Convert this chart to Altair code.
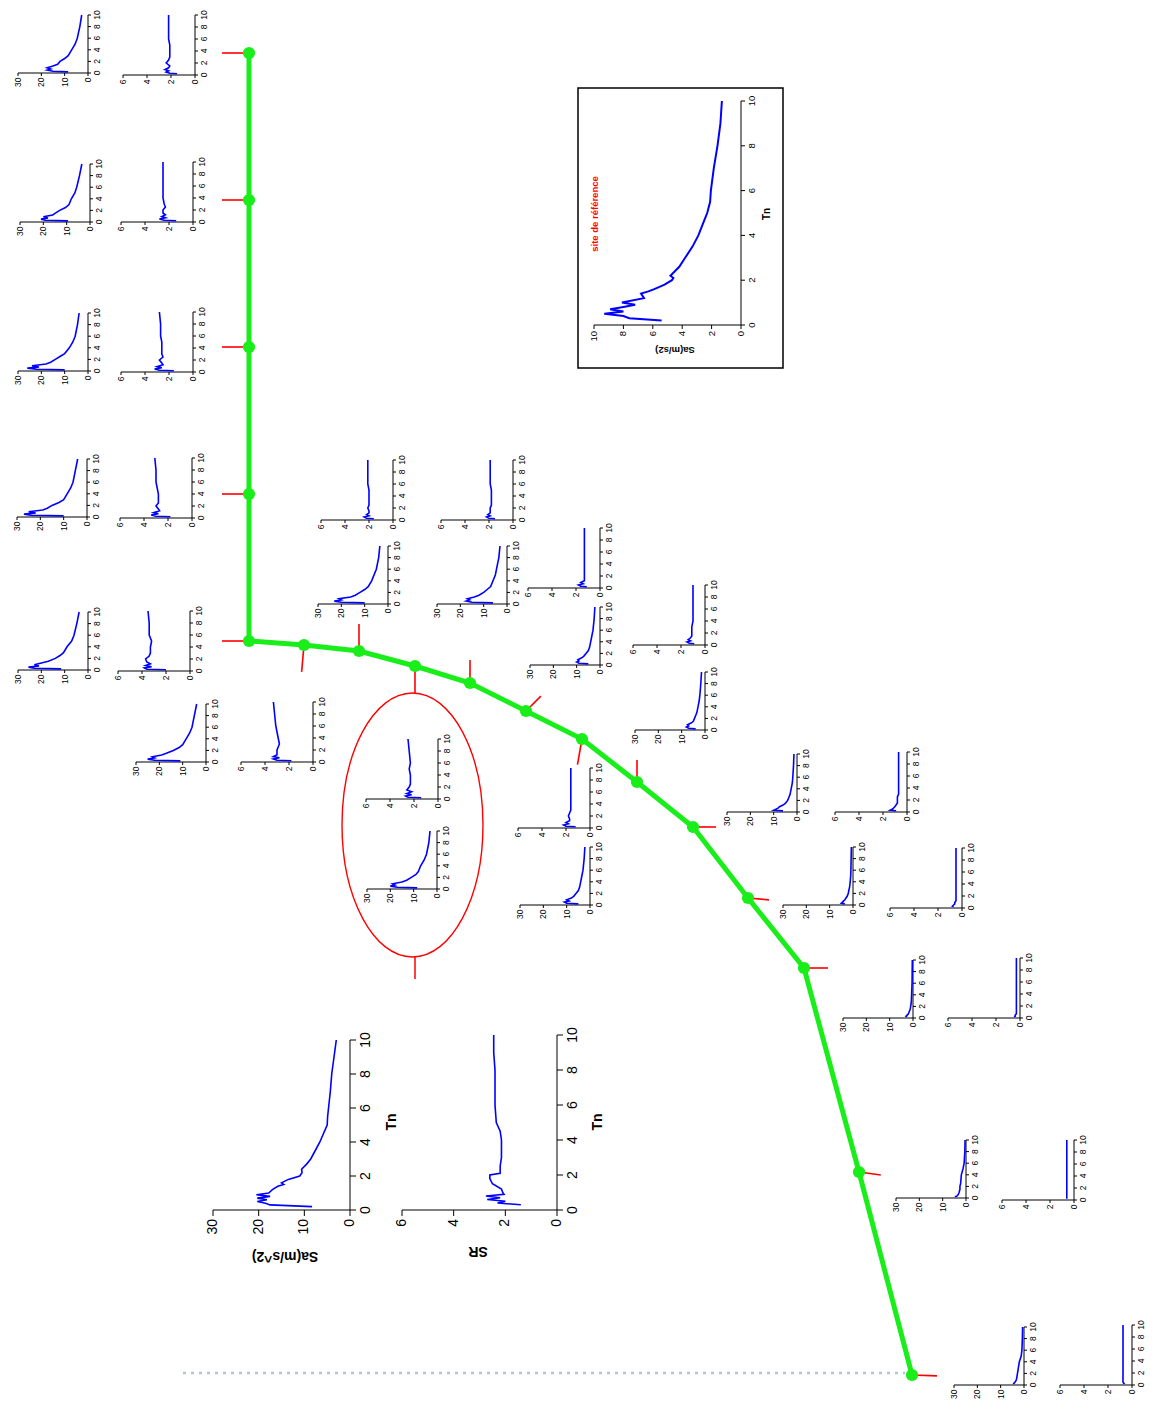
import altair as alt
import pandas as pd

# ---------------- data ----------------
# topographic profile of the stations (green line), page units
profile_x = [249, 249, 249, 249, 249, 304, 359, 415, 470, 526, 582, 637, 693, 748, 804, 859, 912]
profile_y = [53, 200, 347, 494, 641, 645, 651, 666, 683, 711, 739, 782, 827, 898, 968, 1172, 1375]
station_ids = ["%02d" % (i + 1) for i in range(17)]

# periods of the small spectra
T_small = [0.2, 0.3, 0.5, 0.7, 0.9, 1.2, 1.5, 2, 2.5, 3, 4, 5, 6, 8, 10]

sa_01 = [8.5, 15, 17.5, 16, 17.5, 15, 13, 12, 10, 8.5, 7, 5.5, 4.6, 3.5, 2.7]
sa_02 = [9.4, 19, 21, 18, 20, 16, 15, 13, 10.5, 9, 8, 6.5, 5.7, 4.5, 3.5]
sa_03 = [10, 22, 26, 21, 24, 18, 16, 14, 12, 10, 8, 6.5, 5.5, 4.5, 3.8]
sa_04 = [10, 24, 27, 22, 25, 19, 17, 15, 12, 10, 8.5, 7, 6, 5, 4]
sa_05 = [11.5, 23, 25.5, 21, 23, 20, 17, 14, 12, 10.5, 9, 7, 6, 4.8, 3.8]
sa_06 = [11, 22, 25, 22, 23, 19, 17, 14, 11.5, 10, 8.5, 7, 6, 5, 4]
sa_07 = [10, 20, 23, 20, 21, 16, 14, 12, 10, 8.5, 7, 6, 5, 4, 3.5]
sa_08 = [8.5, 17, 20, 18, 19, 15, 13, 11, 9, 8, 7, 5.5, 4.5, 3.5, 3]
sa_09 = [6, 15, 17.5, 16, 17, 14, 12, 10, 8.5, 7, 6, 5, 4.5, 3.5, 3]
sa_10 = [5, 9, 10, 9, 9.5, 8, 7, 6, 5, 4.5, 4, 3.5, 3, 2.5, 2.2]
sa_11 = [5, 10, 11, 9, 10, 8, 7, 6, 5, 4.5, 4, 3.5, 3, 2.5, 2.2]
sa_12 = [4, 7, 8, 7, 7.5, 6, 5, 4.5, 4, 3.5, 3, 2.5, 2.2, 1.8, 1.5]
sa_13 = [6, 10, 9, 8, 7.5, 6, 5, 4, 3.5, 3, 2.5, 2, 1.8, 1.5, 1.3]
sa_14 = [3.5, 5, 4.5, 4, 3.5, 3, 2.5, 2, 1.8, 1.5, 1.2, 1, 0.9, 0.8, 0.7]
sa_15 = [2.5, 3, 2.5, 2, 1.8, 1.5, 1.2, 1, 0.8, 0.7, 0.6, 0.5, 0.4, 0.35, 0.3]
sa_16 = [4.8, 4.0, 3.5, 3.2, 3.0, 2.8, 2.6, 2.6, 2.3, 2.2, 2.0, 1.3, 0.8, 0.5, 0.4]
sa_17 = [4.7, 4.3, 3.8, 3.5, 3.3, 3.1, 3.0, 2.8, 2.6, 2.4, 2.0, 1.2, 0.9, 0.7, 0.6]

sr_01 = [1.5, 2.1, 2.4, 2.2, 2.5, 2.2, 2.1, 2.4, 2.2, 2.1, 2.1, 2.1, 2.2, 2.2, 2.2]
sr_02 = [1.4, 2.4, 2.8, 2.3, 2.6, 2.3, 2.5, 2.5, 2.3, 2.4, 2.5, 2.5, 2.5, 2.5, 2.5]
sr_03 = [1.6, 2.8, 3.2, 2.6, 3.0, 2.5, 2.6, 2.8, 2.5, 2.6, 2.6, 2.6, 2.7, 2.7, 2.8]
sr_04 = [1.8, 3.0, 3.4, 2.8, 3.2, 2.7, 2.8, 3.0, 2.8, 2.8, 2.8, 2.9, 3.0, 3.0, 3.1]
sr_05 = [2.0, 3.6, 3.8, 3.2, 3.7, 3.3, 3.6, 3.7, 3.4, 3.3, 3.3, 3.2, 3.4, 3.4, 3.5]
sr_06 = [1.8, 3.0, 3.3, 2.8, 3.3, 3.0, 3.0, 3.0, 2.9, 2.8, 2.9, 3.0, 3.1, 3.2, 3.3]
sr_07 = [1.6, 2.2, 2.4, 2.0, 2.2, 2.0, 2.0, 2.1, 2.0, 2.0, 2.0, 2.0, 2.1, 2.1, 2.1]
sr_08 = [1.4, 2.5, 2.7, 2.2, 2.6, 2.2, 2.6, 2.4, 2.3, 2.3, 2.3, 2.4, 2.3, 2.4, 2.5]
sr_09 = [1.5, 2.0, 2.2, 1.9, 2.1, 1.9, 1.9, 1.9, 1.8, 1.8, 1.8, 1.8, 1.9, 1.9, 1.9]
sr_10 = [1.1, 1.6, 1.8, 1.4, 1.6, 1.3, 1.3, 1.3, 1.3, 1.3, 1.3, 1.3, 1.3, 1.3, 1.3]
sr_11 = [1.2, 2.0, 2.2, 1.8, 2.0, 1.7, 1.7, 1.8, 1.7, 1.6, 1.6, 1.6, 1.6, 1.6, 1.6]
sr_12 = [0.9, 1.3, 1.5, 1.2, 1.4, 1.2, 1.1, 1.1, 1.1, 1.1, 1.0, 1.0, 1.0, 1.0, 1.0]
sr_13 = [0.9, 1.4, 1.2, 1.1, 1.0, 0.9, 0.8, 0.8, 0.8, 0.7, 0.7, 0.7, 0.7, 0.7, 0.7]
sr_14 = [0.7, 0.8, 0.7, 0.6, 0.6, 0.5, 0.5, 0.5, 0.5, 0.5, 0.5, 0.5, 0.5, 0.5, 0.5]
sr_15 = [0.5, 0.4, 0.4, 0.3, 0.3, 0.3, 0.3, 0.3, 0.3, 0.3, 0.3, 0.3, 0.3, 0.3, 0.3]
sr_16 = [0.6, 0.6, 0.6, 0.6, 0.6, 0.6, 0.6, 0.6, 0.6, 0.6, 0.6, 0.6, 0.6, 0.6, 0.6]
sr_17 = [0.6, 0.7, 0.75, 0.75, 0.75, 0.75, 0.75, 0.75, 0.75, 0.75, 0.75, 0.75, 0.75, 0.75, 0.75]

# large example spectrum (Sa) and spectral ratio (SR)
T_big_sa = [0.2, 0.3, 0.4, 0.5, 0.6, 0.7, 0.8, 0.9, 1.0, 1.2, 1.4, 1.5, 1.6, 1.8, 2.0,
            2.2, 2.4, 2.7, 3.0, 3.5, 4.0, 4.5, 5.0, 5.5, 6.0, 7.0, 8.0, 9.0, 10.0]
big_sa = [8.3, 17.5, 18.5, 20.3, 18.2, 20.3, 17.5, 20.5, 17.8, 17.0, 15.8, 14.5, 15.0, 13.5, 11.0,
          10.5, 10.6, 9.5, 8.6, 7.6, 6.6, 5.8, 5.0, 4.9, 4.7, 4.3, 4.0, 3.5, 3.0]
T_big_sr = [0.3, 0.4, 0.5, 0.6, 0.7, 0.8, 0.9, 1.0, 1.2, 1.5, 1.8, 2.0, 2.1, 2.5, 3.0,
            3.5, 4.0, 4.5, 5.0, 6.0, 7.0, 8.0, 9.0, 10.0]
big_sr = [1.4, 2.3, 2.0, 2.7, 2.2, 2.75, 2.05, 2.1, 2.15, 2.5, 2.6, 2.6, 2.2, 2.2, 2.15,
          2.15, 2.15, 2.2, 2.35, 2.4, 2.4, 2.4, 2.45, 2.45]

# reference site spectrum
T_ref = [0.2, 0.3, 0.4, 0.5, 0.6, 0.7, 0.8, 0.9, 1.0, 1.2, 1.4, 1.5, 1.6, 1.8, 2.0,
         2.1, 2.2, 2.4, 2.6, 3.0, 3.5, 4.0, 4.5, 5.0, 5.5, 6.0, 7.0, 8.0, 9.0, 10.0]
ref_sa = [5.4, 7.6, 8.0, 9.3, 8.0, 8.9, 8.0, 7.2, 8.1, 6.6, 6.8, 6.3, 5.9, 5.2, 4.7,
          4.6, 4.8, 4.5, 4.2, 3.8, 3.3, 2.9, 2.6, 2.3, 2.1, 2.05, 1.85, 1.6, 1.4, 1.3]

sa_series = [sa_01, sa_02, sa_03, sa_04, sa_05, sa_06, sa_07, sa_08, sa_09, sa_10,
             sa_11, sa_12, sa_13, sa_14, sa_15, sa_16, sa_17]
sr_series = [sr_01, sr_02, sr_03, sr_04, sr_05, sr_06, sr_07, sr_08, sr_09, sr_10,
             sr_11, sr_12, sr_13, sr_14, sr_15, sr_16, sr_17]

# ---------------- layout (page positions of the inset plots) ----------------
sa_corner = [(88, 73), (90, 222), (88, 371), (87, 517), (88, 670), (206, 762), (388, 604),
             (437, 889), (507, 604), (600, 665), (590, 905), (705, 730), (797, 812),
             (853, 905), (913, 1018), (966, 1198), (1024, 1385)]
sr_corner = [(195, 75), (193, 222), (193, 372), (192, 518), (190, 671), (313, 762), (393, 520),
             (438, 799), (513, 520), (600, 588), (590, 828), (705, 645), (907, 812),
             (962, 908), (1020, 1018), (1074, 1200), (1132, 1385)]
tick_dir = [180, 180, 180, 180, 180, 95, 270, 90, 270, 315, 100, 270, 0, 5, 0, 8, 2]
tick_len = [27, 27, 27, 27, 27, 27, 27, 27, 23, 21, 26, 22, 23, 21, 24, 22, 25]

KIND = {
    "sa": dict(W=70, H=58, vmax=30, vt=[0, 10, 20, 30], fs=8.5, tl=3, gap=1.5),
    "sr": dict(W=72, H=60, vmax=6, vt=[0, 2, 4, 6], fs=8.5, tl=3, gap=1.5),
    "bigsa": dict(W=137, H=170, vmax=30, vt=[0, 10, 20, 30], fs=14, tl=6, gap=3),
    "bigsr": dict(W=155, H=175, vmax=6, vt=[0, 2, 4, 6], fs=14, tl=6, gap=3),
    "ref": dict(W=147, H=224, vmax=10, vt=[0, 2, 4, 6, 8, 10], fs=9.5, tl=4, gap=2),
}
T_ticks = [0, 2, 4, 6, 8, 10]

insets = []  # (name, kind, ox, oy, T, values)
for i, sid in enumerate(station_ids):
    insets.append(("sa" + sid, "sa", sa_corner[i][0], sa_corner[i][1], T_small, sa_series[i]))
    insets.append(("sr" + sid, "sr", sr_corner[i][0], sr_corner[i][1], T_small, sr_series[i]))
insets.append(("bigsa", "bigsa", 350, 1210, T_big_sa, big_sa))
insets.append(("bigsr", "bigsr", 557, 1210, T_big_sr, big_sr))
insets.append(("ref", "ref", 741, 325, T_ref, ref_sa))

spec_rows, frame_rows, tick_rows = [], [], []
for name, kind, ox, oy, Ts, Vs in insets:
    k = KIND[kind]
    base = dict(inset=name, ox=ox, oy=oy, W=k["W"], H=k["H"], vmax=k["vmax"],
                tl=k["tl"], gap=k["gap"], fs=k["fs"],
                sw=2.0 if kind == "ref" else 1.6)
    for t, v in zip(Ts, Vs):
        spec_rows.append(dict(base, T=t, v=v))
    frame_rows.append(base)
    for v in k["vt"]:
        tick_rows.append(dict(base, axis="v", val=v, lab=str(v)))
    for t in T_ticks:
        tick_rows.append(dict(base, axis="t", val=t, lab=str(t)))

spec_df = pd.DataFrame(spec_rows)
frame_df = pd.DataFrame(frame_rows)
tick_df = pd.DataFrame(tick_rows)

station_df = pd.DataFrame(dict(station=station_ids, x=profile_x, y=profile_y,
                               a=tick_dir, L=tick_len))

titles_df = pd.DataFrame([
    dict(text="Sa(m/s^2)", x=285, y=1256, angle=180, size=14, color="#000000"),
    dict(text="SR", x=478, y=1251, angle=180, size=14, color="#000000"),
    dict(text="Tn", x=392, y=1122, angle=270, size=14, color="#000000"),
    dict(text="Tn", x=598, y=1122, angle=270, size=14, color="#000000"),
    dict(text="Sa(m/s2)", x=675, y=350, angle=180, size=9.5, color="#000000"),
    dict(text="Tn", x=767, y=214, angle=270, size=10, color="#000000"),
    dict(text="site de référence", x=595, y=214, angle=270, size=9.5, color="#ff0000"),
])

# ---------------- chart ----------------
XS = alt.Scale(domain=[8, 1151], nice=False, zero=False)
YS = alt.Scale(domain=[8, 1399], nice=False, zero=False, reverse=True)


def xe(f):
    return alt.X(f, type="quantitative", scale=XS, axis=None)


def ye(f):
    return alt.Y(f, type="quantitative", scale=YS, axis=None)


FONT = "Liberation Sans"

# reference box
box = alt.Chart(pd.DataFrame([dict(x1=578, x2=783, y1=88, y2=368)])).mark_rect(
    fill="white", fillOpacity=0, stroke="black", strokeWidth=1.5
).encode(x=xe("x1"), x2=alt.X2("x2"), y=ye("y1"), y2=alt.Y2("y2"))

# dotted guide at the foot of the profile
guide = alt.Chart(pd.DataFrame([dict(x1=183, x2=905, y=1373)])).mark_rule(
    color="#b3c6cf", strokeWidth=2.5, strokeDash=[3, 5]
).encode(x=xe("x1"), x2=alt.X2("x2"), y=ye("y"))

# ellipse around station 8
ell_path = "M0,-1A0.534,1,0,1,1,0,1A0.534,1,0,1,1,0,-1Z"
ellipse = alt.Chart(pd.DataFrame([dict(x=412.5, y=825)])).mark_point(
    shape=ell_path, size=69696, filled=False, color="#ff0000", strokeWidth=1.4, opacity=1
).encode(x=xe("x"), y=ye("y"))
ell_tick = alt.Chart(pd.DataFrame([dict(x=415, y1=957, y2=979)])).mark_rule(
    color="#ff0000", strokeWidth=1.5
).encode(x=xe("x"), y=ye("y1"), y2=alt.Y2("y2"))

# axes of the inset plots
vaxis = alt.Chart(frame_df).transform_calculate(
    xa="datum.ox - datum.W"
).mark_rule(color="black", strokeWidth=1).encode(
    x=xe("xa"), x2=alt.X2("ox"), y=ye("oy"))
taxis = alt.Chart(frame_df).transform_calculate(
    ya="datum.oy - datum.H"
).mark_rule(color="black", strokeWidth=1).encode(
    x=xe("ox"), y=ye("oy"), y2=alt.Y2("ya"))

vt = alt.Chart(tick_df).transform_filter("datum.axis == 'v'").transform_calculate(
    px="datum.ox - datum.val / datum.vmax * datum.W",
    py2="datum.oy + datum.tl",
    ly="datum.oy + datum.tl + datum.gap",
)
vticks = vt.mark_rule(color="black", strokeWidth=1).encode(
    x=xe("px"), y=ye("oy"), y2=alt.Y2("py2"))
vlabels = vt.mark_text(angle=270, align="right", baseline="middle", font=FONT,
                       color="black").encode(
    x=xe("px"), y=ye("ly"), text="lab:N", size=alt.Size("fs:Q", scale=None))

tt = alt.Chart(tick_df).transform_filter("datum.axis == 't'").transform_calculate(
    py="datum.oy - datum.val / 10 * datum.H",
    px2="datum.ox + datum.tl",
    lx="datum.ox + datum.tl + datum.gap",
)
tticks = tt.mark_rule(color="black", strokeWidth=1).encode(
    x=xe("ox"), x2=alt.X2("px2"), y=ye("py"))
tlabels = tt.mark_text(angle=270, align="center", baseline="top", font=FONT,
                       color="black").encode(
    x=xe("lx"), y=ye("py"), text="lab:N", size=alt.Size("fs:Q", scale=None))

# spectra
spectra = alt.Chart(spec_df).transform_calculate(
    px="datum.ox - datum.v / datum.vmax * datum.W",
    py="datum.oy - datum.T / 10 * datum.H",
).mark_line(color="#0000ff").encode(
    x=xe("px"), y=ye("py"), detail="inset:N", order="T:Q",
    strokeWidth=alt.StrokeWidth("sw:Q", scale=None))

# station ticks, profile line and station points
sticks = alt.Chart(station_df).transform_calculate(
    ex="datum.x + datum.L * cos(datum.a * PI / 180)",
    ey="datum.y + datum.L * sin(datum.a * PI / 180)",
).mark_rule(color="#ff0000", strokeWidth=1.6).encode(
    x=xe("x"), x2=alt.X2("ex"), y=ye("y"), y2=alt.Y2("ey"))
profile = alt.Chart(station_df).mark_line(color="#1aee1a", strokeWidth=5).encode(
    x=xe("x"), y=ye("y"), order="station:N")
points = alt.Chart(station_df).mark_circle(color="#1aee1a", size=150, opacity=1).encode(
    x=xe("x"), y=ye("y"))

titles = alt.Chart(titles_df).mark_text(fontWeight="bold", font=FONT).encode(
    x=xe("x"), y=ye("y"), text="text:N",
    angle=alt.Angle("angle:Q", scale=None),
    size=alt.Size("size:Q", scale=None),
    color=alt.Color("color:N", scale=None),
)

chart = alt.layer(
    box, guide, ellipse, ell_tick, vaxis, taxis, vticks, tticks, vlabels, tlabels,
    spectra, sticks, profile, points, titles
).properties(
    width=1143, height=1391, padding=0, autosize="none"
).configure_view(stroke=None)

chart.save("out.html", embed_options={"renderer": "svg", "actions": False})
